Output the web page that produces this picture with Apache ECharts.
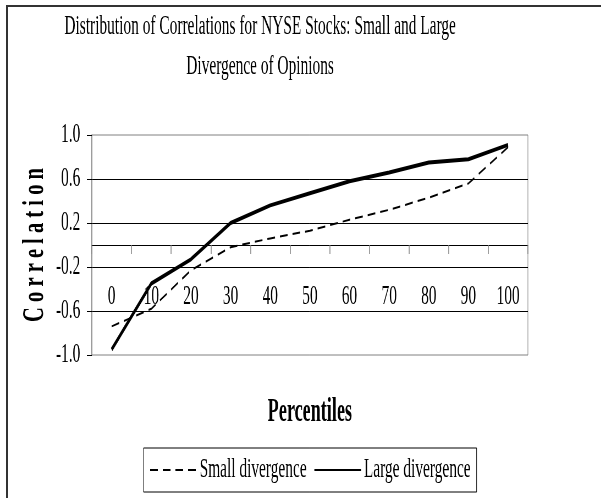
<!DOCTYPE html>
<html>
<head>
<meta charset="utf-8">
<script src="https://cdn.jsdelivr.net/npm/echarts@6/dist/echarts.min.js"></script>
<style>
html, body { margin: 0; padding: 0; background: #fff; overflow: hidden; }
#wrap { position: relative; width: 601px; height: 498px; overflow: hidden; background: #fff; }
/* the original figure is squeezed sideways, so draw it wide and squeeze the canvas */
#main { position: absolute; left: 0; top: 0; width: 1093px; height: 498px; transform: scaleX(0.5499); transform-origin: 0 0; }
#frame { position: absolute; left: 6px; top: 5px; right: -10px; bottom: -10px; border-left: 2px solid #333; border-top: 2px solid #333; pointer-events: none; }
</style>
</head>
<body>
<div id="wrap">
  <div id="main"></div>
  <div id="frame"></div>
</div>
<script>
// percentiles on the x axis
var percentiles = ['0', '10', '20', '30', '40', '50', '60', '70', '80', '90', '100'];
// correlations
var smallDivergence = [-0.74, -0.58, -0.23, -0.02, 0.06, 0.13, 0.23, 0.32, 0.43, 0.56, 0.89];
var largeDivergence = [-0.95, -0.35, -0.13, 0.20, 0.36, 0.47, 0.58, 0.66, 0.75, 0.78, 0.91];
// y axis range and step
var yMin = -1.0;
var yMax = 1.0;
var yStep = 0.4;

var font = 'Liberation Serif';

var chart = echarts.init(document.getElementById('main'));
chart.setOption({
  animation: false,
  backgroundColor: '#fff',
  title: {
    text: 'Distribution of Correlations for NYSE Stocks: Small and Large\nDivergence of Opinions',
    left: 468,
    top: 2,
    textAlign: 'center',
    textStyle: {
      fontFamily: font,
      fontWeight: 'normal',
      fontSize: 28,
      lineHeight: 40,
      color: '#000'
    }
  },
  legend: {
    data: ['Small divergence', 'Large divergence'],
    left: 261,
    top: 448,
    padding: [8, 11],
    itemWidth: 85,
    itemHeight: 14,
    itemGap: 13,
    borderColor: '#000',
    borderWidth: 1,
    itemStyle: { opacity: 0 },   // line only, no marker
    textStyle: { fontFamily: font, fontSize: 28, color: '#000' }
  },
  grid: {
    left: 167,
    right: 133,
    top: 135,
    bottom: 143,
    outerBoundsMode: 'none',
    containLabel: false,
    show: true,
    borderColor: '#808080',
    borderWidth: 1,
    backgroundColor: '#fff'
  },
  // y axis title, stretched letters like the original
  graphic: [{
    type: 'text',
    x: 64,
    y: 245,
    rotation: Math.PI / 2,
    scaleX: 0.38,
    style: {
      text: 'C o r r e l a t i o n',
      fontFamily: font,
      fontWeight: 'bold',
      fontSize: 54,
      fill: '#000',
      textAlign: 'center',
      textVerticalAlign: 'middle'
    }
  }],
  xAxis: {
    type: 'category',
    data: percentiles,
    boundaryGap: true,
    name: 'Percentiles',
    nameLocation: 'middle',
    nameGap: 41,
    nameTextStyle: { fontFamily: font, fontSize: 33, fontWeight: 'bold', color: '#000' },
    axisLine: { onZero: true, lineStyle: { color: '#000', width: 1 } },
    axisTick: { show: true, length: 9, lineStyle: { color: '#808080', width: 1.5 } },
    // labels sit inside the plot, under the zero line
    axisLabel: { margin: -72, fontFamily: font, fontSize: 28, color: '#000' },
    splitLine: { show: false }
  },
  yAxis: {
    type: 'value',
    min: yMin,
    max: yMax,
    interval: yStep,
    axisLine: { show: true, lineStyle: { color: '#808080', width: 1.5 } },
    axisTick: { show: true, length: 9, lineStyle: { color: '#000' } },
    axisLabel: {
      margin: 21,
      fontFamily: font,
      fontSize: 28,
      color: '#000',
      formatter: function (v) { return v.toFixed(1); }
    },
    splitLine: { show: true, showMinLine: false, showMaxLine: false, lineStyle: { color: '#000', width: 1 } }
  },
  series: [{
    name: 'Small divergence',
    type: 'line',
    data: smallDivergence,
    symbol: 'none',
    lineStyle: { color: '#000', width: 2, type: [14, 9] },
    itemStyle: { color: '#000' }
  }, {
    name: 'Large divergence',
    type: 'line',
    data: largeDivergence,
    symbol: 'none',
    lineStyle: { color: '#000', width: 4 },
    itemStyle: { color: '#000' }
  }]
});
</script>
</body>
</html>
